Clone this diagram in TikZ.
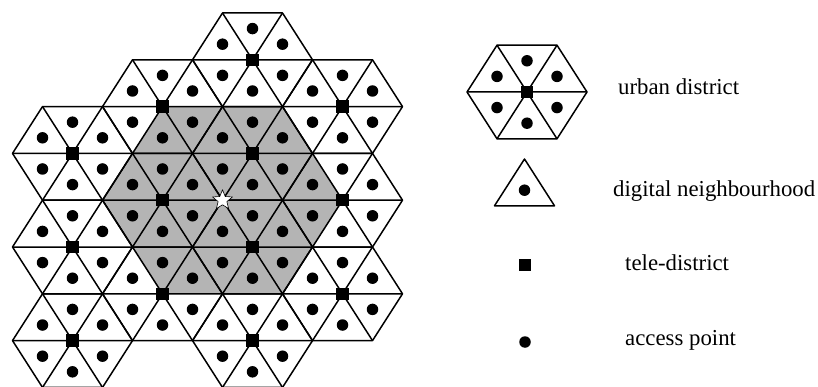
\documentclass[tikz,border=0pt]{standalone}
\usepackage{fontspec}
\setmainfont{Liberation Serif}
\usetikzlibrary{shapes.geometric}
\definecolor{shadegray}{RGB}{180,180,180}
\begin{document}
\begin{tikzpicture}[x=1pt,y=-1pt,line join=round,
  edge/.style={draw=black,line width=1.5pt},
  apdot/.style={fill=black,circle,inner sep=0pt,minimum size=11.5pt},
  tele/.style={fill=black,inner sep=0pt,minimum size=12.5pt},
  lbl/.style={anchor=base west,inner sep=0pt,font=\fontsize{22.8}{27}\selectfont}]
\useasboundingbox[fill=white] (0,0) rectangle (818,387);
% main grid: X unit = 30px, row unit = 46.8px
\begin{scope}[shift={(252.5,13)},x={(30pt,0pt)},y={(0pt,-46.8pt)}]
  \fill[shadegray] (-3,2) -- (1,2) -- (3,4) -- (1,6) -- (-3,6) -- (-5,4) -- cycle;
  \foreach \cx/\cy in {0/1,-3/2,3/2,-6/3,0/3,-3/4,3/4,-6/5,0/5,-3/6,3/6,-6/7,0/7}{
    \draw[edge] (\cx+2,\cy) -- (\cx+1,\cy-1) -- (\cx-1,\cy-1) -- (\cx-2,\cy)
      -- (\cx-1,\cy+1) -- (\cx+1,\cy+1) -- cycle;
    \draw[edge] (\cx-2,\cy) -- (\cx+2,\cy) (\cx-1,\cy-1) -- (\cx+1,\cy+1)
      (\cx+1,\cy-1) -- (\cx-1,\cy+1);
    \foreach \dx/\dy [count=\i] in {0/-0.6667,1/-0.3333,1/0.3333,0/0.6667,-1/0.3333,-1/-0.3333}
      \node[apdot] (ap\cx\cy\i) at (\cx+\dx,\cy+\dy) {};
    \node[tele] (td\cx\cy) at (\cx,\cy) {};
  }
  \node[star,star points=5,star point ratio=2.3,minimum size=21pt,inner sep=0pt,
    fill=white,draw=black,line width=0.6pt] (star) at (-1,4) {};
\end{scope}
% legend: urban district
\begin{scope}[shift={(527,92)},x={(30pt,0pt)},y={(0pt,-46.8pt)}]
  \draw[edge] (2,0) -- (1,-1) -- (-1,-1) -- (-2,0) -- (-1,1) -- (1,1) -- cycle;
  \draw[edge] (-2,0) -- (2,0) (-1,-1) -- (1,1) (1,-1) -- (-1,1);
  \foreach \dx/\dy [count=\i] in {0/-0.6667,1/-0.3333,1/0.3333,0/0.6667,-1/0.3333,-1/-0.3333}
    \node[apdot] (lap\i) at (\dx,\dy) {};
  \node[tele] (ltd) at (0,0) {};
\end{scope}
% legend: digital neighbourhood
\begin{scope}[shift={(524.5,159)},x={(30pt,0pt)},y={(0pt,-46.8pt)}]
  \draw[edge] (0,0) -- (1,1) -- (-1,1) -- cycle;
  \node[apdot] (lnap) at (0,0.6667) {};
\end{scope}
\node[tele] (ltele) at (525,265) {};
\node[apdot] (lap) at (525,342) {};
\node[lbl] (t1) at (618,95) {urban district};
\node[lbl] (t2) at (613,197) {digital neighbourhood};
\node[lbl] (t3) at (625,270) {tele-district};
\node[lbl] (t4) at (625,345) {access point};
\end{tikzpicture}
\end{document}
